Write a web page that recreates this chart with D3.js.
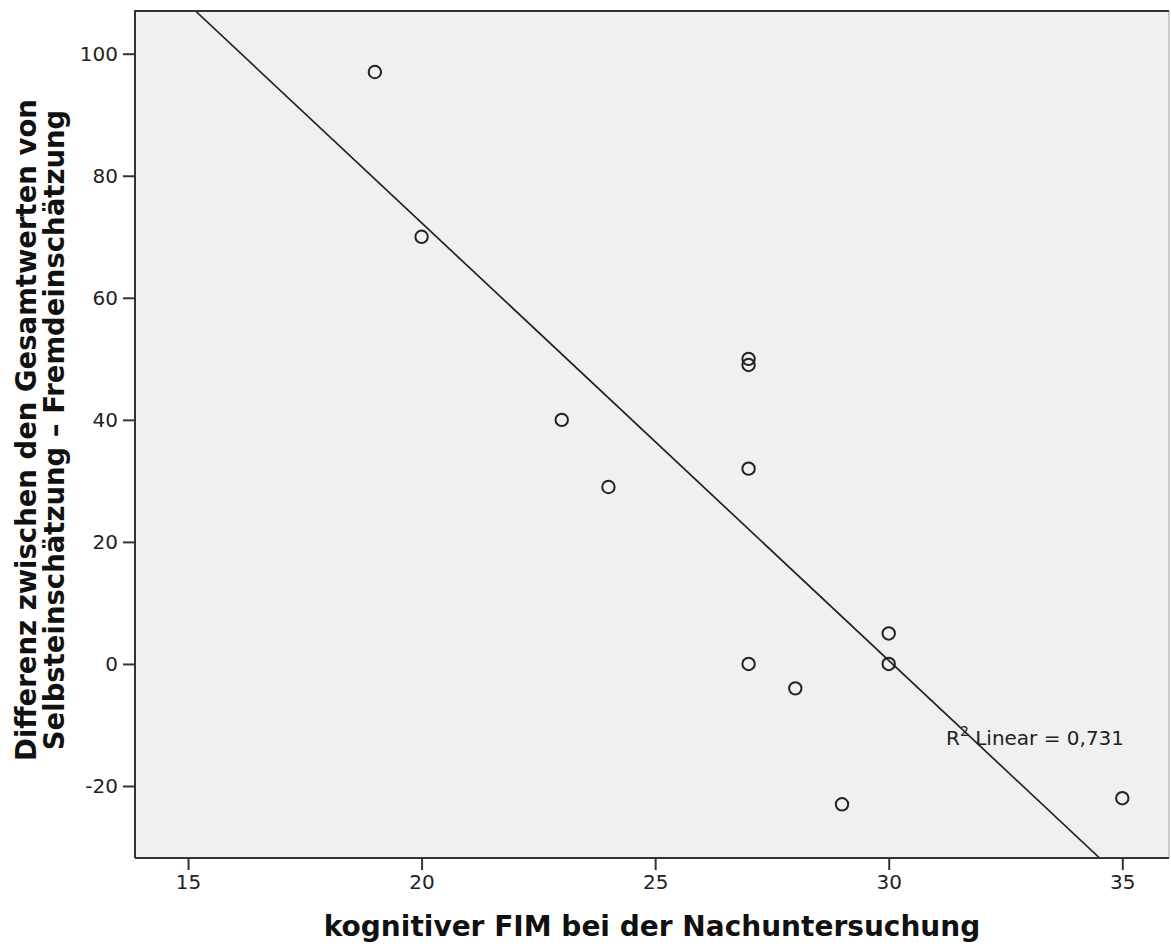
<!DOCTYPE html>
<html><head><meta charset="utf-8">
<script src="https://cdn.jsdelivr.net/npm/d3@7"></script>
<style>body{margin:0;background:#fff;} svg{display:block;}</style>
</head><body>
<svg id="c" width="1171" height="947"></svg>
<script>
const xVals = [19, 20, 23, 24, 27, 27, 27, 27, 28, 29, 30, 30, 35];
const yVals = [97, 70, 40, 29, 50, 49, 32, 0, -4, -23, 5, 0, -22];
const xTicks = [15, 20, 25, 30, 35];
const yTicks = [-20, 0, 20, 40, 60, 80, 100];
const xTitle = "kognitiver FIM bei der Nachuntersuchung";
const yTitle = ["Differenz zwischen den Gesamtwerten von", "Selbsteinschätzung – Fremdeinschätzung"];
const r2Label = "0,731";

const svg = d3.select("#c");
const L = 135, R = 1169, T = 11, B = 858;
const x = d3.scaleLinear().domain([13.865, 36.0]).range([L, R]);
const y = d3.scaleLinear().domain([-31.8, 107]).range([B, T]);
const font = "'DejaVu Sans', sans-serif";

svg.append("rect").attr("x", L).attr("y", T).attr("width", R - L).attr("height", B - T).attr("fill", "#f0f0f0");

// regression
const n = xVals.length;
const mx = d3.mean(xVals), my = d3.mean(yVals);
let sxy = 0, sxx = 0;
for (let i = 0; i < n; i++) { sxy += (xVals[i] - mx) * (yVals[i] - my); sxx += (xVals[i] - mx) ** 2; }
const b = sxy / sxx, a = my - b * mx;
const [x0, x1] = x.domain(), [y0, y1] = y.domain();
const xa = Math.max(x0, (y1 - a) / b), xb = Math.min(x1, (y0 - a) / b);
svg.append("defs").append("clipPath").attr("id", "clip").append("rect")
  .attr("x", L).attr("y", T).attr("width", R - L).attr("height", B - T);
svg.append("line").attr("clip-path", "url(#clip)")
  .attr("x1", x(xa)).attr("y1", y(a + b * xa)).attr("x2", x(xb)).attr("y2", y(a + b * xb))
  .attr("stroke", "#222").attr("stroke-width", 1.7);

// points
svg.append("g").selectAll("circle").data(xVals.map((v, i) => [v, yVals[i]])).join("circle")
  .attr("cx", d => x(d[0])).attr("cy", d => y(d[1])).attr("r", 6.2)
  .attr("fill", "none").attr("stroke", "#222").attr("stroke-width", 2);

// R2 label
const t = svg.append("text").attr("x", 946).attr("y", 745).attr("font-family", font).attr("font-size", 20).attr("fill", "#222");
t.append("tspan").text("R");
t.append("tspan").attr("dy", -9).attr("font-size", 14).text("2");
t.append("tspan").attr("dy", 9).text(" Linear = " + r2Label);

// frame
svg.append("line").attr("x1", R).attr("x2", R).attr("y1", T).attr("y2", B).attr("stroke", "#bbb").attr("stroke-width", 1.5);
svg.append("path").attr("d", `M${L},${B}V${T}H${R}`).attr("fill", "none").attr("stroke", "#333").attr("stroke-width", 2);
svg.append("line").attr("x1", L).attr("x2", R).attr("y1", B).attr("y2", B).attr("stroke", "#333").attr("stroke-width", 2);

// axes
const xAxis = svg.append("g").attr("transform", `translate(0,${B})`)
  .call(d3.axisBottom(x).tickValues(xTicks).tickSize(12).tickPadding(5).tickSizeOuter(0).tickFormat(d => String(d)));
const yAxis = svg.append("g").attr("transform", `translate(${L},0)`)
  .call(d3.axisLeft(y).tickValues(yTicks).tickSize(12).tickPadding(5).tickSizeOuter(0).tickFormat(d => String(d)));
[xAxis, yAxis].forEach(g => {
  g.select(".domain").remove();
  g.selectAll(".tick line").attr("stroke", "#333").attr("stroke-width", 2);
  g.selectAll(".tick text").attr("font-family", font).attr("font-size", 20).attr("fill", "#222");
});

// titles
svg.append("text").attr("x", (L + R) / 2).attr("y", 936).attr("text-anchor", "middle")
  .attr("font-family", font).attr("font-weight", "bold").attr("font-size", 28).attr("fill", "#111").text(xTitle);
yTitle.forEach((s, i) => {
  svg.append("text").attr("transform", `translate(${36 + i * 28},${430}) rotate(-90)`).attr("text-anchor", "middle")
    .attr("font-family", font).attr("font-weight", "bold").attr("font-size", 27.5).attr("fill", "#111").text(s);
});
</script>
</body></html>
